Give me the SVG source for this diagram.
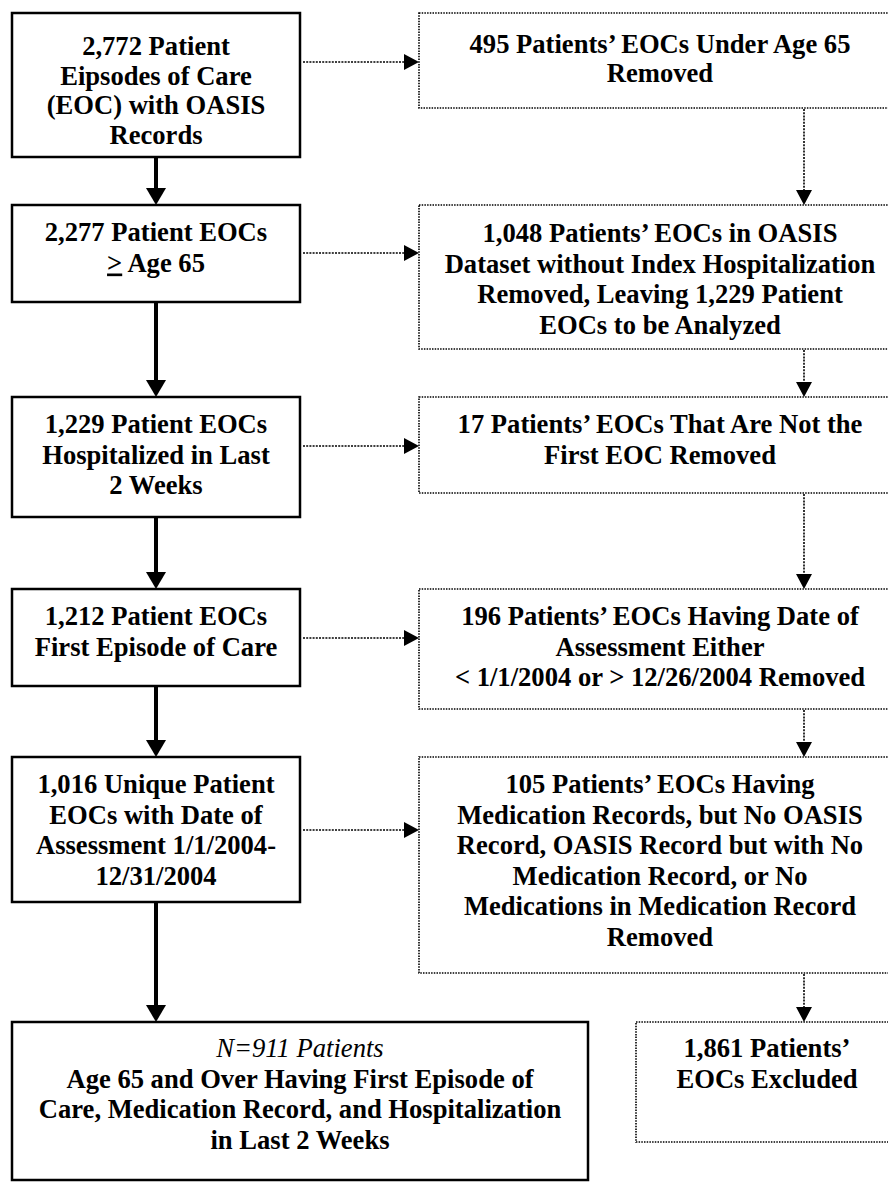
<svg xmlns="http://www.w3.org/2000/svg" width="888" height="1184" viewBox="0 0 888 1184">
  <style>
    text { font-family: "Liberation Serif", "Times New Roman", serif; font-size: 26.6px; font-weight: bold; fill: #000; text-anchor: middle; }
    .it { font-style: italic; font-weight: normal; }
    .solid { fill: #fff; stroke: #000; stroke-width: 2.5; }
    .dotted { fill: #fff; stroke: #000; stroke-width: 1.6; stroke-dasharray: 1.5 1.2; }
    .thick { fill: none; stroke: #000; stroke-width: 4; }
    .dot { fill: none; stroke: #000; stroke-width: 1.6; stroke-dasharray: 2 1.2; }
  </style>
  <defs>
    <marker id="headThick" markerUnits="userSpaceOnUse" markerWidth="17" markerHeight="20" viewBox="0 0 17 20" refX="0" refY="10" orient="auto">
      <path d="M0,0 L17,10 L0,20 Z" fill="#000"/>
    </marker>
    <marker id="headDot" markerUnits="userSpaceOnUse" markerWidth="15" markerHeight="16" viewBox="0 0 15 16" refX="0" refY="8" orient="auto">
      <path d="M0,0 L15,8 L0,16 Z" fill="#000"/>
    </marker>
  </defs>

  <g id="connectors">
    <!-- main flow, solid -->
    <line class="thick" x1="156" y1="158" x2="156" y2="188" marker-end="url(#headThick)"/>
    <line class="thick" x1="156" y1="303" x2="156" y2="380" marker-end="url(#headThick)"/>
    <line class="thick" x1="156" y1="518" x2="156" y2="572" marker-end="url(#headThick)"/>
    <line class="thick" x1="156" y1="687" x2="156" y2="740" marker-end="url(#headThick)"/>
    <line class="thick" x1="156" y1="903" x2="156" y2="1005" marker-end="url(#headThick)"/>
    <!-- exclusions, dotted -->
    <line class="dot" x1="303" y1="62" x2="404" y2="62" marker-end="url(#headDot)"/>
    <line class="dot" x1="303" y1="253" x2="404" y2="253" marker-end="url(#headDot)"/>
    <line class="dot" x1="303" y1="446" x2="404" y2="446" marker-end="url(#headDot)"/>
    <line class="dot" x1="303" y1="638" x2="404" y2="638" marker-end="url(#headDot)"/>
    <line class="dot" x1="303" y1="830" x2="404" y2="830" marker-end="url(#headDot)"/>
    <line class="dot" x1="804" y1="109" x2="804" y2="190" marker-end="url(#headDot)"/>
    <line class="dot" x1="804" y1="350" x2="804" y2="382" marker-end="url(#headDot)"/>
    <line class="dot" x1="804" y1="494" x2="804" y2="574" marker-end="url(#headDot)"/>
    <line class="dot" x1="804" y1="710" x2="804" y2="742" marker-end="url(#headDot)"/>
    <line class="dot" x1="804" y1="974" x2="804" y2="1007" marker-end="url(#headDot)"/>
  </g>

  <g id="n-all">
    <rect class="solid" x="12" y="13" width="288" height="144"/>
    <text x="156" y="55">2,772 Patient</text>
    <text x="156" y="84.5">Eipsodes of Care</text>
    <text x="156" y="114">(EOC) with OASIS</text>
    <text x="156" y="143.5">Records</text>
  </g>

  <g id="n-age">
    <rect class="solid" x="12" y="205" width="288" height="97"/>
    <text x="156" y="241">2,277 Patient EOCs</text>
    <text x="156" y="271.5"><tspan text-decoration="underline">&gt;</tspan> Age 65</text>
  </g>

  <g id="n-hosp">
    <rect class="solid" x="12" y="397" width="288" height="120"/>
    <text x="156" y="433">1,229 Patient EOCs</text>
    <text x="156" y="463.5">Hospitalized in Last</text>
    <text x="156" y="494">2 Weeks</text>
  </g>

  <g id="n-first">
    <rect class="solid" x="12" y="589" width="288" height="97"/>
    <text x="156" y="625">1,212 Patient EOCs</text>
    <text x="156" y="655.5">First Episode of Care</text>
  </g>

  <g id="n-unique">
    <rect class="solid" x="12" y="757" width="288" height="145"/>
    <text x="156" y="793">1,016 Unique Patient</text>
    <text x="156" y="823.5">EOCs with Date of</text>
    <text x="156" y="854">Assessment 1/1/2004-</text>
    <text x="156" y="884.5">12/31/2004</text>
  </g>

  <g id="n-final">
    <rect class="solid" x="12" y="1022" width="576" height="158"/>
    <text class="it" x="300" y="1057">N=911 Patients</text>
    <text x="300" y="1087.5">Age 65 and Over Having First Episode of</text>
    <text x="300" y="1118">Care, Medication Record, and Hospitalization</text>
    <text x="300" y="1148.5">in Last 2 Weeks</text>
  </g>

  <g id="x-under65">
    <rect class="dotted" x="419" y="13" width="482" height="95"/>
    <text x="660" y="53">495 Patients’ EOCs Under Age 65</text>
    <text x="660" y="82">Removed</text>
  </g>

  <g id="x-noindex">
    <rect class="dotted" x="419" y="205" width="482" height="144"/>
    <text x="660" y="242">1,048 Patients’ EOCs in OASIS</text>
    <text x="660" y="272.5">Dataset without Index Hospitalization</text>
    <text x="660" y="303">Removed, Leaving 1,229 Patient</text>
    <text x="660" y="333.5">EOCs to be Analyzed</text>
  </g>

  <g id="x-notfirst">
    <rect class="dotted" x="419" y="397" width="482" height="96"/>
    <text x="660" y="433">17 Patients’ EOCs That Are Not the</text>
    <text x="660" y="463.5">First EOC Removed</text>
  </g>

  <g id="x-date">
    <rect class="dotted" x="419" y="589" width="482" height="120"/>
    <text x="660" y="625">196 Patients’ EOCs Having Date of</text>
    <text x="660" y="655.5">Assessment Either</text>
    <text x="660" y="686">&lt; 1/1/2004 or &gt; 12/26/2004 Removed</text>
  </g>

  <g id="x-medication">
    <rect class="dotted" x="419" y="757" width="482" height="216"/>
    <text x="660" y="793">105 Patients’ EOCs Having</text>
    <text x="660" y="823.5">Medication Records, but No OASIS</text>
    <text x="660" y="854">Record, OASIS Record but with No</text>
    <text x="660" y="884.5">Medication Record, or No</text>
    <text x="660" y="915">Medications in Medication Record</text>
    <text x="660" y="945.5">Removed</text>
  </g>

  <g id="x-total">
    <rect class="dotted" x="636" y="1022" width="262" height="120"/>
    <text x="767" y="1057">1,861 Patients’</text>
    <text x="767" y="1087.5">EOCs Excluded</text>
  </g>
</svg>
